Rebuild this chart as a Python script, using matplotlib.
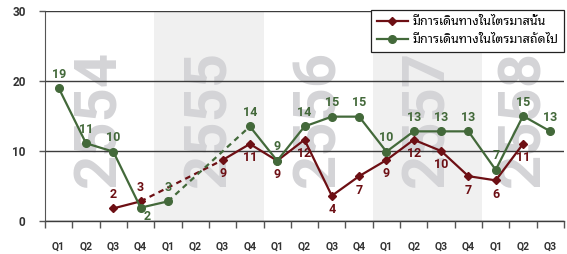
import matplotlib
matplotlib.use("Agg")
import matplotlib.pyplot as plt
import numpy as np

# quarters 2554 Q1 .. 2558 Q3
quarters = ["Q1", "Q2", "Q3", "Q4"] * 4 + ["Q1", "Q2", "Q3"]
years = ["2554", "2555", "2556", "2557", "2558"]

# travelled in this quarter (nan = no survey)
this_q = [np.nan, np.nan, 1.8, 2.8, np.nan, np.nan, 8.7, 11.0, 8.6, 11.6,
          3.6, 6.4, 8.7, 11.6, 10.0, 6.4, 5.8, 11.0, np.nan]
# plan to travel next quarter
next_q = [19.0, 11.1, 9.9, 1.9, 2.8, np.nan, np.nan, 13.5, 8.6, 13.5,
          14.9, 14.9, 9.9, 12.8, 12.8, 12.8, 7.3, 15.0, 12.8]

this_lbl = ["", "", "2", "3", "", "", "9", "11", "9", "12",
            "4", "7", "9", "12", "10", "7", "6", "11", ""]
next_lbl = ["19", "11", "10", "2", "3", "", "", "14", "9", "14",
            "15", "15", "10", "13", "13", "13", "7", "15", "13"]

legend_names = ["มีการเดินทางในไตรมาสนั้น", "มีการเดินทางในไตรมาสถัดไป"]

RED = "#6d0f14"
GREEN = "#43693a"
NUM_FONT = "Roboto"
THAI_FONT = ["Noto Sans Thai Looped", "DejaVu Sans"]

fig = plt.figure(figsize=(5.67, 2.54), dpi=100)
ax = fig.add_axes([0.0794, 0.130, 0.9153, 0.827])

x = np.arange(len(quarters))
ax.set_xlim(-0.5, len(quarters) - 0.5)
ax.set_ylim(0, 30)

# shaded years + big year watermark
for i, yr in enumerate(years):
    start = i * 4 - 0.5
    end = min(start + 4, len(quarters) - 0.5)
    if i % 2 == 1:
        ax.axvspan(start, end, color="#f0f0f0", lw=0, zorder=0)
    ax.text((start + end) / 2, 14.7, yr, rotation=90, ha="center", va="center",
            fontsize=43, fontweight="bold", color="#d4d4d7", zorder=1,
            family="Roboto")

ax.set_yticks([0, 10, 20, 30])
ax.yaxis.grid(True, color="#3c3c3c", lw=1.0, zorder=2)
ax.set_axisbelow(False)

# dashed bridges across the missing quarters
t = np.array(this_q)
n = np.array(next_q)
ax.plot([3, 6], [t[3], t[6]], color=RED, lw=1.6, ls=(0, (2.5, 2)), zorder=3)
ax.plot([4, 7], [n[4], n[7]], color=GREEN, lw=1.6, ls=(0, (2.5, 2)), zorder=3)

ax.plot(x, t, color=RED, lw=1.6, marker="D", ms=4, zorder=4,
        label=legend_names[0])
ax.plot(x, n, color=GREEN, lw=1.6, marker="o", ms=5.5, zorder=4,
        label=legend_names[1])

# value labels
for i in range(len(x)):
    if this_lbl[i]:
        dy = 10 if i in (2, 3) else -10
        ax.annotate(this_lbl[i], (x[i], t[i]), xytext=(0, dy),
                    textcoords="offset points", ha="center", va="center",
                    color=RED, fontsize=9, fontweight="bold", family=NUM_FONT,
                    zorder=5)
    if next_lbl[i]:
        dx, dy = (0, 10)
        if i == 3:
            dx, dy = (5, -6)
        ax.annotate(next_lbl[i], (x[i], n[i]), xytext=(dx, dy),
                    textcoords="offset points", ha="center", va="center",
                    color=GREEN, fontsize=9, fontweight="bold", family=NUM_FONT,
                    zorder=5)

# ticks: boundaries as marks, quarter names in the middle
ax.set_xticks(np.arange(-0.5, len(quarters), 1))
ax.set_xticklabels([])
ax.set_xticks(x, minor=True)
ax.set_xticklabels(quarters, minor=True)
ax.tick_params(axis="x", which="major", length=5, width=1, color="#555555")
ax.tick_params(axis="x", which="minor", length=0, pad=15, labelsize=7.5,
               labelcolor="#333333")
ax.tick_params(axis="y", length=4, width=1, color="#555555", pad=10,
               labelsize=8.5, labelcolor="#333333")
for lab in ax.get_xticklabels(minor=True) + ax.get_yticklabels():
    lab.set_fontweight("bold")
    lab.set_family(NUM_FONT)

for s in ["top", "right"]:
    ax.spines[s].set_visible(False)
ax.spines["left"].set_color("#555555")
ax.spines["bottom"].set_color("#3c3c3c")
ax.spines["bottom"].set_linewidth(1.0)

leg = ax.legend(loc="upper right", bbox_to_anchor=(1.0, 1.005), frameon=True,
                fancybox=False, edgecolor="#222222", framealpha=1,
                prop={"family": THAI_FONT, "size": 9}, handlelength=2.5,
                handletextpad=0.35, borderpad=0.45, labelspacing=0.4,
                borderaxespad=0)
leg.get_frame().set_linewidth(0.9)
leg.set_zorder(6)

fig.savefig("out.png", dpi=100)
